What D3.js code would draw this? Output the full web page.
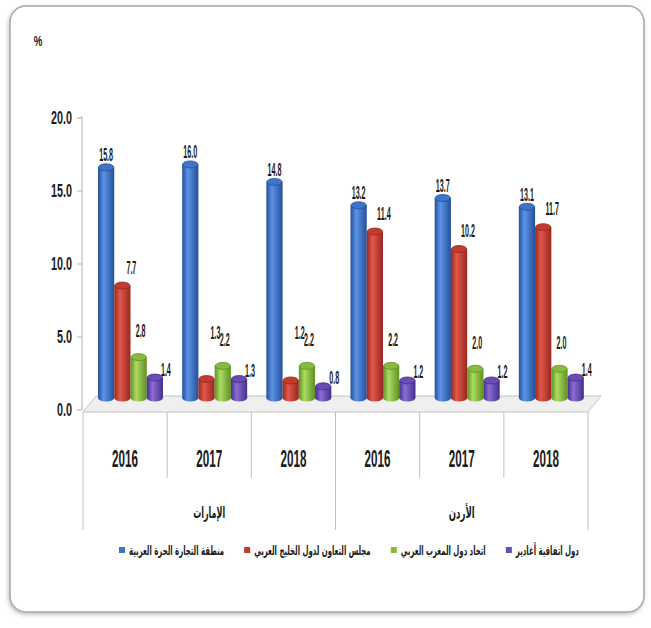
<!DOCTYPE html>
<html><head><meta charset="utf-8">
<script src="https://cdn.jsdelivr.net/npm/d3@7"></script>
<style>html,body{margin:0;padding:0;background:#fff;}svg{display:block;}</style>
</head><body>
<svg id="chart" width="651" height="628"></svg>
<script>
// ---- data ----
const categories = ["2016","2017","2018","2016","2017","2018"];
const groups = ["الإمارات","الأردن"];
const seriesNames = ["منطقة التجارة الحرة العربية","مجلس التعاون لدول الخليج العربي","اتحاد دول المغرب العربي","دول اتفاقية أغادير"];
const gafta  = [15.8, 16.0, 14.8, 13.2, 13.7, 13.1];
const gcc    = [7.7, 1.3, 1.2, 11.4, 10.2, 11.7];
const amu    = [2.8, 2.2, 2.2, 2.2, 2.0, 2.0];
const agadir = [1.4, 1.3, 0.8, 1.2, 1.2, 1.4];
const yTicks = [0, 5, 10, 15, 20];
const unitLabel = "%";

const seriesValues = [gafta, gcc, amu, agadir];
const colors = [
  {dark:"#24509a", light:"#5c93e6", cap:"#3f74c8"},
  {dark:"#962820", light:"#e2584a", cap:"#c23a30"},
  {dark:"#5f9022", light:"#acdc62", cap:"#86bb3e"},
  {dark:"#45308a", light:"#8c6cd6", cap:"#6a4cb4"}
];

const svg = d3.select("#chart");
const defs = svg.append("defs");
colors.forEach((c,i)=>{
  const g = defs.append("linearGradient").attr("id","g"+i).attr("x1","0").attr("x2","1").attr("y1","0").attr("y2","0");
  g.append("stop").attr("offset","0").attr("stop-color",c.dark);
  g.append("stop").attr("offset","0.35").attr("stop-color",c.light);
  g.append("stop").attr("offset","1").attr("stop-color",c.dark);
});
const sh = defs.append("filter").attr("id","shadow").attr("x","-5%").attr("y","-5%").attr("width","110%").attr("height","110%");
sh.append("feDropShadow").attr("dx",-1).attr("dy",2).attr("stdDeviation",2).attr("flood-color","#888").attr("flood-opacity",0.5);

// frame
svg.append("rect").attr("x",10).attr("y",6).attr("width",634).attr("height",606).attr("rx",16)
  .attr("fill","#fff").attr("stroke","#a8a8a8").attr("stroke-width",1.5).attr("filter","url(#shadow)");

function sq(g, x, y, txt, size, sx, sy, anchor, family){
  return g.append("text").attr("transform",`translate(${x},${y}) scale(${sx},${sy})`)
    .attr("text-anchor",anchor||"middle").attr("font-family",family||"Liberation Sans, Arial, sans-serif")
    .attr("font-weight","bold").attr("font-size",size).attr("fill","#1a1a1a").text(txt);
}

const x0 = d3.scaleBand().domain(d3.range(categories.length)).range([83,588]).padding(0);
const x1 = d3.scaleBand().domain(d3.range(seriesValues.length)).range([15,80]).padding(0);
const y = d3.scaleLinear().domain([0,20]).range([410,118]);
const dz = 12;

// floor
svg.append("polygon")
  .attr("points",`${x0.range()[0]},${y(0)+2} ${x0.range()[1]},${y(0)+2} ${x0.range()[1]+13},${y(0)-dz-2} ${x0.range()[0]+13},${y(0)-dz-2}`)
  .attr("fill","#efefef").attr("stroke","#c4c4c4").attr("stroke-width",1);

// y axis
const ax = svg.append("g");
ax.append("line").attr("x1",82).attr("x2",82).attr("y1",y(20)-2).attr("y2",y(0)).attr("stroke","#b0b0b0");
yTicks.forEach(t=>{
  ax.append("line").attr("x1",77).attr("x2",82).attr("y1",y(t)).attr("y2",y(t)).attr("stroke","#b0b0b0");
  sq(ax, 72, y(t)+6, d3.format(".1f")(t), 15, 0.72, 1.25, "end");
});
sq(svg, 38, 46, unitLabel, 12, 0.8, 1.2, "middle");

// bars
const bars = svg.append("g");
categories.forEach((c,i)=>{
  seriesValues.forEach((vals,s)=>{
    const v = vals[i];
    const bx = x0(i)+x1(s), w = x1.bandwidth();
    const top = y(v)-dz, bot = y(0)-dz;
    bars.append("ellipse").attr("cx",bx+w/2).attr("cy",bot).attr("rx",w/2).attr("ry",3.5).attr("fill",`url(#g${s})`);
    bars.append("rect").attr("x",bx).attr("y",top).attr("width",w).attr("height",bot-top).attr("fill",`url(#g${s})`);
    bars.append("ellipse").attr("cx",bx+w/2).attr("cy",top).attr("rx",w/2-0.5).attr("ry",3.5)
      .attr("fill",colors[s].cap).attr("stroke",colors[s].dark).attr("stroke-width",0.8);
  });
});

// data labels
const lab = svg.append("g");
categories.forEach((c,i)=>{
  seriesValues.forEach((vals,s)=>{
    const v = vals[i];
    const cx = x0(i)+x1(s)+x1.bandwidth()/2;
    const top = y(v)-dz;
    let lx=cx, ly=top-12;
    if(s===1){ lx=cx+9; ly=Math.min(top-18,333); }
    if(s===2){ lx=cx+2; ly=top-26; }
    if(s===3){ lx=cx+11; ly=top-8; }
    sq(lab, lx, ly+6, d3.format(".1f")(v), 13, 0.55, 1.4, "middle");
  });
});

// category axis
const cax = svg.append("g");
d3.range(categories.length+1).forEach(k=>{
  const xx = k<categories.length ? x0(k) : x0.range()[1];
  const isGroup = (k%3===0);
  cax.append("line").attr("x1",xx).attr("x2",xx).attr("y1",y(0)+2).attr("y2",isGroup?530:478)
    .attr("stroke","#c0c0c0").attr("stroke-width",1);
});
categories.forEach((c,i)=>{
  sq(cax, x0(i)+x0.bandwidth()/2, 467, c, 16, 0.73, 1.45, "middle");
});

function measure(txt, size){
  const t = svg.append("text").attr("font-family","DejaVu Sans, sans-serif").attr("font-weight","bold").attr("font-size",size).text(txt);
  const w = t.node().getComputedTextLength(); t.remove(); return w;
}
groups.forEach((gname,gi)=>{
  const cx = (x0(gi*3)+x0(gi*3+2)+x0.bandwidth())/2;
  const target = gi===0?32:26;
  const sx = target/measure(gname,12);
  sq(cax, cx, 518, gname, 12, sx, 1.3, "middle", "DejaVu Sans, sans-serif");
});

// legend
const leg = svg.append("g");
const nat = seriesNames.map(n=>measure(n,11));
const k = 360/d3.sum(nat);
let lx = 119;
seriesNames.forEach((n,s)=>{
  leg.append("rect").attr("x",lx).attr("y",547).attr("width",6).attr("height",6).attr("fill",colors[s].cap);
  lx += 10;
  const w = nat[s]*k;
  sq(leg, lx, 555, n, 11, k, 1.15, "start", "DejaVu Sans, sans-serif");
  lx += w + 20;
});
</script>
</body></html>
